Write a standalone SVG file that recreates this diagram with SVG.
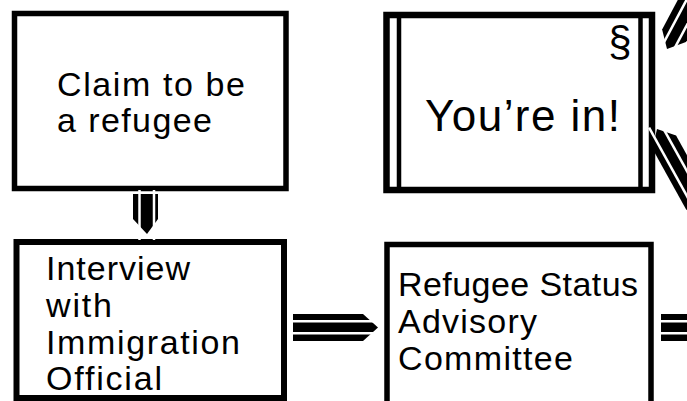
<svg xmlns="http://www.w3.org/2000/svg" xmlns:xlink="http://www.w3.org/1999/xlink" width="687" height="401" viewBox="0 0 687 401">
  <style>
    .box { fill: #ffffff; stroke: #000000; stroke-width: 5.5; }
    .inner { stroke: #000000; stroke-width: 4.5; }
    .lbl { font-family: "Liberation Sans", Arial, Helvetica, sans-serif; font-size: 34px; fill: #000000; }
    .big { font-family: "Liberation Sans", Arial, Helvetica, sans-serif; font-size: 44px; fill: #000000; }
    .gap { stroke: #ffffff; stroke-width: 2.5; }
  </style>
  <defs>
    <g id="arrow">
      <polygon points="-85,-13.5 -15,-13.5 0,0 -15,13.5 -85,13.5" fill="#000000"/>
      <line class="gap" x1="-90" y1="-6.3" x2="5" y2="-6.3"/>
      <line class="gap" x1="-90" y1="5.8" x2="5" y2="5.8"/>
    </g>
  </defs>
  <rect width="687" height="401" fill="#ffffff"/>

  <g id="node-claim">
    <rect class="box" x="14.5" y="13.5" width="271.5" height="175"/>
    <text class="lbl" x="57" y="96" textLength="188" lengthAdjust="spacing">Claim to be</text>
    <text class="lbl" x="57" y="132" textLength="155" lengthAdjust="spacing">a refugee</text>
  </g>

  <g id="node-youre-in">
    <rect class="box" x="386.5" y="15" width="265.5" height="175" style="stroke-width:6.5"/>
    <line class="inner" x1="399" y1="17" x2="399" y2="188"/>
    <line class="inner" x1="640.5" y1="17" x2="640.5" y2="188"/>
    <text class="big" x="620" y="56" text-anchor="middle" style="font-size:42px">§</text>
    <text class="big" x="425" y="131" textLength="195" lengthAdjust="spacing">You’re in!</text>
  </g>

  <g id="node-interview">
    <rect class="box" x="16.5" y="242" width="267.5" height="156" style="stroke-width:6"/>
    <text class="lbl" x="46" y="280" textLength="144" lengthAdjust="spacing">Interview</text>
    <text class="lbl" x="46" y="317" textLength="66" lengthAdjust="spacing">with</text>
    <text class="lbl" x="46" y="354" textLength="194" lengthAdjust="spacing">Immigration</text>
    <text class="lbl" x="46" y="390" textLength="116" lengthAdjust="spacing">Official</text>
  </g>

  <g id="node-rsac">
    <rect class="box" x="387" y="244.5" width="264" height="180"/>
    <text class="lbl" x="398" y="296" textLength="240" lengthAdjust="spacing">Refugee Status</text>
    <text class="lbl" x="398" y="333" textLength="139" lengthAdjust="spacing">Advisory</text>
    <text class="lbl" x="398" y="370" textLength="175" lengthAdjust="spacing">Committee</text>
  </g>

  <g id="connectors">
    <g id="arrow-down">
      <polygon points="133,194 158,194 158,219 147,234 133,219" fill="#000000"/>
      <line class="gap" x1="139.5" y1="190" x2="139.5" y2="240"/>
      <line class="gap" x1="154" y1="190" x2="154" y2="240"/>
    </g>
    <use xlink:href="#arrow" transform="translate(378,327.5)"/>
    <use xlink:href="#arrow" transform="translate(746,327.5)"/>
    <use xlink:href="#arrow" transform="translate(667,49) rotate(118)"/>
    <use xlink:href="#arrow" transform="translate(657,129) rotate(-119)"/>
  </g>
</svg>
